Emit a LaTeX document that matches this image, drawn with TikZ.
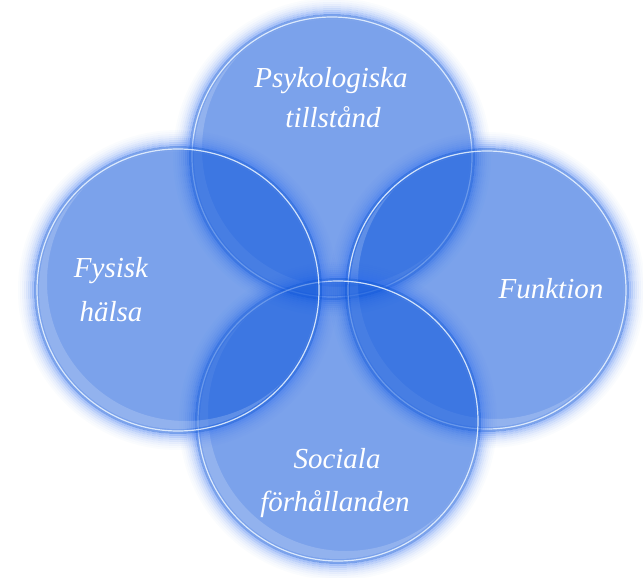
\documentclass[tikz,border=0pt]{standalone}
\usepackage{fontspec}
\setmainfont{Liberation Serif}
\definecolor{disc}{RGB}{6,81,219}
\definecolor{halo}{RGB}{40,105,240}
\definecolor{rimc}{RGB}{235,245,255}
\newcommand\mybubble[3]{%
  \foreach \k/\o in {19/0.02,17/0.04,15/0.07,13/0.11,11/0.16,9/0.22,7/0.3,5/0.4}{%
    \fill[halo, fill opacity=\o, even odd rule]
      (#1,#2) circle[radius={#3pt+\k pt}] (#1,#2) circle[radius={#3pt+\k pt-2pt}];
  }%
  \fill[disc, fill opacity=0.53] (#1,#2) circle[radius={#3pt+3pt}];
  \begin{scope}
    \clip (#1,#2) circle[radius={#3pt-2pt}];
    \fill[white, fill opacity=0.18, even odd rule]
      (#1,#2) circle[radius={#3pt-2pt}] (#1+8,#2-8) circle[radius={#3pt-2pt}];
  \end{scope}
  \draw[rimc, draw opacity=0.85, line width=1.2pt] (#1,#2) circle[radius={#3pt}];
}
\begin{document}
\begin{tikzpicture}[x=1pt,y=-1pt,
  lbl/.style={anchor=base, text=white, inner sep=0pt,
    font=\fontsize{29}{35}\selectfont\itshape}]
\useasboundingbox (0,0) rectangle (643,578);
\fill[white] (0,0) rectangle (643,578);
% circles: top, right, bottom, left
\mybubble{332}{157}{140}
\mybubble{487}{290}{139}
\mybubble{338}{421}{140}
\mybubble{178}{290}{141}
% labels
\node[lbl] (psy1) at (331,88) {Psykologiska};
\node[lbl] (psy2) at (333,128) {tillstånd};
\node[lbl] (fys1) at (111,277) {Fysisk};
\node[lbl] (fys2) at (111,321) {hälsa};
\node[lbl] (fun)  at (551,298) {Funktion};
\node[lbl] (soc1) at (337,468) {Sociala};
\node[lbl] (soc2) at (335,511) {förhållanden};
\end{tikzpicture}
\end{document}
